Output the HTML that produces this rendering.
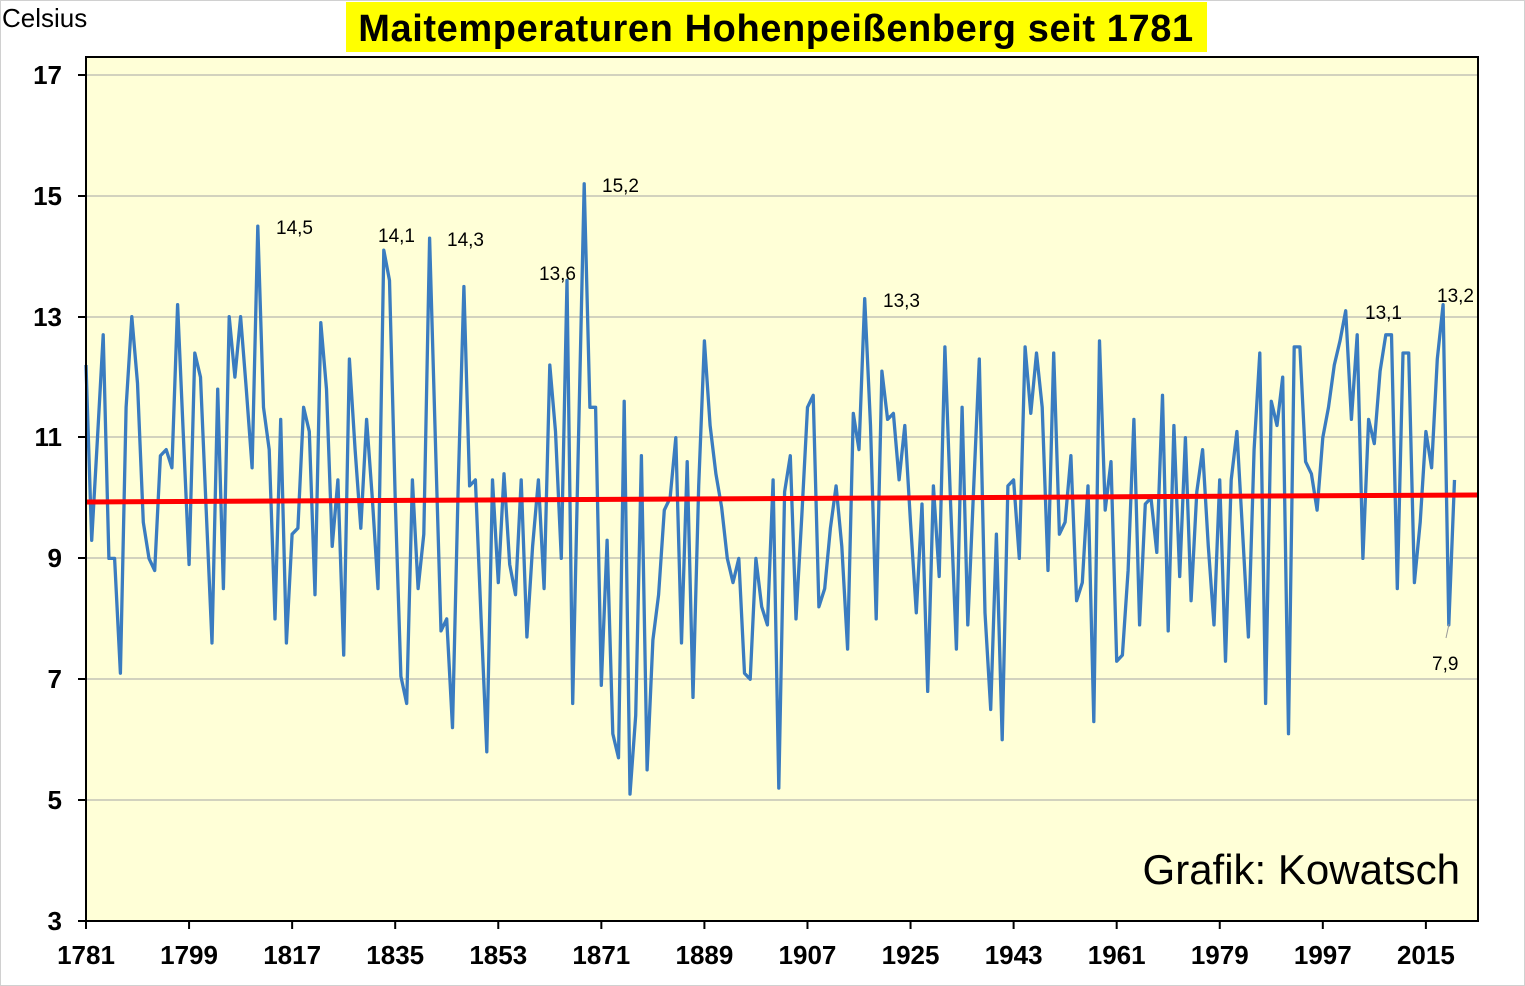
<!DOCTYPE html>
<html><head><meta charset="utf-8"><style>
body{margin:0;background:#fff;}
svg{display:block;font-family:"Liberation Sans",sans-serif;}
</style></head><body>
<svg id="s" width="1525" height="986" viewBox="0 0 1525 986" xmlns="http://www.w3.org/2000/svg">
<rect x="0.5" y="0.5" width="1524" height="985" fill="#fff" stroke="#d0d0d0"/>
<rect x="86" y="57" width="1392" height="864" fill="#ffffd7"/>
<g stroke="#a6a6a6" stroke-width="1">
<line x1="86" x2="1478" y1="75" y2="75"/><line x1="86" x2="1478" y1="196" y2="196"/>
<line x1="86" x2="1478" y1="317" y2="317"/><line x1="86" x2="1478" y1="437" y2="437"/>
<line x1="86" x2="1478" y1="558" y2="558"/><line x1="86" x2="1478" y1="679" y2="679"/>
<line x1="86" x2="1478" y1="800" y2="800"/>
</g>
<polyline id="pl" fill="none" stroke="#3a7cc0" stroke-width="3.3" stroke-linejoin="round" points=""/>
<line x1="86" y1="502" x2="1478" y2="495" stroke="#ff0000" stroke-width="5"/>
<rect x="86" y="57" width="1392" height="864" fill="none" stroke="#000" stroke-width="2"/>
<g id="ticks" stroke="#000" stroke-width="2"></g>
<g font-size="26" font-weight="bold" text-anchor="end" fill="#000">
<text x="62" y="84">17</text><text x="62" y="205">15</text><text x="62" y="326">13</text>
<text x="62" y="446">11</text><text x="62" y="567">9</text><text x="62" y="688">7</text>
<text x="62" y="809">5</text><text x="62" y="930">3</text>
</g>
<g id="xl" font-size="26" font-weight="bold" text-anchor="middle" fill="#000"></g>
<text x="2" y="27" font-size="26">Celsius</text>
<rect x="346" y="2" width="861" height="50" fill="#ffff00"/>
<text x="776" y="41" font-size="38" font-weight="bold" text-anchor="middle" letter-spacing="0.6">Maitemperaturen Hohenpeißenberg seit 1781</text>
<g font-size="19" fill="#000">
<text x="276" y="234">14,5</text><text x="378" y="242">14,1</text><text x="447" y="246">14,3</text>
<text x="539" y="280">13,6</text><text x="602" y="192">15,2</text><text x="883" y="307">13,3</text>
<text x="1365" y="319">13,1</text><text x="1437" y="302">13,2</text><text x="1432" y="670">7,9</text>
</g>
<line x1="1449" y1="624" x2="1446" y2="638" stroke="#999" stroke-width="1"/>
<text x="1460" y="884" font-size="42" text-anchor="end">Grafik: Kowatsch</text>
</svg>
<script>
var d=[12.2,9.3,11.0,12.7,9.0,9.0,7.1,11.5,13.0,11.9,
9.6,9.0,8.8,10.7,10.8,10.5,13.2,11.05,8.9,12.4,
12.0,9.8,7.6,11.8,8.5,13.0,12.0,13.0,11.8,10.5,
14.5,11.5,10.8,8.0,11.3,7.6,9.4,9.5,11.5,11.1,
8.4,12.9,11.8,9.2,10.3,7.4,12.3,10.8,9.5,11.3,
10.0,8.5,14.1,13.6,10.0,7.05,6.6,10.3,8.5,9.4,
14.3,11.0,7.8,8.0,6.2,10.2,13.5,10.2,10.3,8.0,
5.8,10.3,8.6,10.4,8.9,8.4,10.3,7.7,9.2,10.3,
8.5,12.2,11.1,9.0,13.6,6.6,10.9,15.2,11.5,11.5,
6.9,9.3,6.1,5.7,11.6,5.1,6.4,10.7,5.5,7.65,
8.4,9.8,10.0,11.0,7.6,10.6,6.7,10.2,12.6,11.2,
10.4,9.85,9.0,8.6,9.0,7.1,7.0,9.0,8.2,7.9,
10.3,5.2,10.1,10.7,8.0,9.7,11.5,11.7,8.2,8.5,
9.5,10.2,9.2,7.5,11.4,10.8,13.3,11.2,8.0,12.1,
11.3,11.4,10.3,11.2,9.6,8.1,9.9,6.8,10.2,8.7,
12.5,9.9,7.5,11.5,7.9,10.1,12.3,8.1,6.5,9.4,
6.0,10.2,10.3,9.0,12.5,11.4,12.4,11.5,8.8,12.4,
9.4,9.6,10.7,8.3,8.6,10.2,6.3,12.6,9.8,10.6,
7.3,7.4,8.8,11.3,7.9,9.9,10.0,9.1,11.7,7.8,
11.2,8.7,11.0,8.3,10.1,10.8,9.2,7.9,10.3,7.3,
10.3,11.1,9.4,7.7,10.8,12.4,6.6,11.6,11.2,12.0,
6.1,12.5,12.5,10.6,10.4,9.8,11.0,11.5,12.2,12.6,
13.1,11.3,12.7,9.0,11.3,10.9,12.1,12.7,12.7,8.5,
12.4,12.4,8.6,9.6,11.1,10.5,12.3,13.2,7.9,10.3];
var p=[];for(var i=0;i<d.length;i++){p.push((86+i*5.726).toFixed(1)+","+(921-(d[i]-3)*60.43).toFixed(1));}
document.getElementById("pl").setAttribute("points",p.join(" "));
var ns="http://www.w3.org/2000/svg",t=document.getElementById("ticks"),xl=document.getElementById("xl");
[75,196,317,437,558,679,800,921].forEach(function(y){var l=document.createElementNS(ns,"line");l.setAttribute("x1",78);l.setAttribute("x2",86);l.setAttribute("y1",y);l.setAttribute("y2",y);t.appendChild(l);});
for(var yr=1781;yr<=2015;yr+=18){var x=86+(yr-1781)*5.726;var l=document.createElementNS(ns,"line");l.setAttribute("x1",x);l.setAttribute("x2",x);l.setAttribute("y1",921);l.setAttribute("y2",929);t.appendChild(l);
var tx=document.createElementNS(ns,"text");tx.setAttribute("x",x);tx.setAttribute("y",964);tx.textContent=yr;xl.appendChild(tx);}
</script>
</body></html>
